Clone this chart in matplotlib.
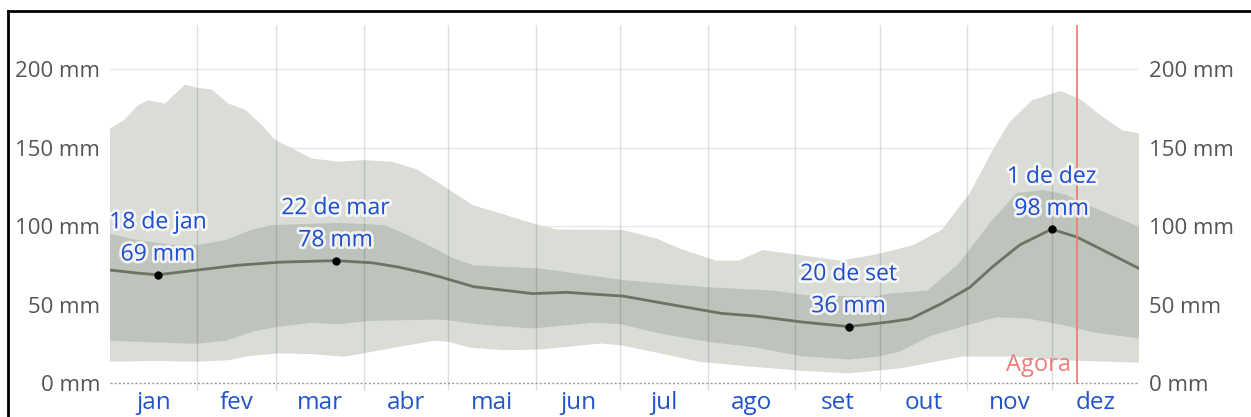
import matplotlib
matplotlib.use('Agg')
import matplotlib.pyplot as plt
import matplotlib.patheffects as pe
import numpy as np

# day of year (0 = 1 jan) and rainfall values (mm)
month_labels = ['jan', 'fev', 'mar', 'abr', 'mai', 'jun', 'jul', 'ago', 'set', 'out', 'nov', 'dez']
month_days = [31, 28, 31, 30, 31, 30, 31, 31, 30, 31, 30, 31]

median_days = [0, 10, 17, 31, 45, 60, 80, 93, 102, 112, 117, 121, 129, 150, 162,
               182, 200, 217, 229, 245, 262, 276.6, 284, 295, 305, 313, 322.7, 334,
               343, 354.6, 365]
median_vals = [72, 70, 69, 72, 75, 77, 78, 76.6, 74, 70, 67.7, 65.6, 61.4, 57, 57.8,
               55.4, 49.7, 44.4, 42.7, 39, 36, 39, 41, 50.7, 61, 74, 88, 98,
               93, 82.5, 73]

p75_days = [0, 10, 22, 31, 41, 50, 57, 81, 97.5, 107, 116, 121, 129, 152.5, 182,
            212, 235, 247, 270.5, 276.6, 290, 301, 313, 321.6, 331, 339, 348.6, 365]
p75_vals = [95, 91, 88, 88, 91, 97.5, 100.6, 102, 100.6, 93, 85, 80, 75, 73, 65.6,
            61, 59, 56, 55, 57, 59, 76, 104, 121, 123, 120, 112, 99.6]

p25_days = [0, 30, 41, 51, 60, 71.6, 81, 93, 116, 120, 128, 138, 150, 171, 181,
            195, 212, 228, 245, 262, 273, 280, 291, 302.5, 314.5, 326, 338, 350, 365]
p25_vals = [27, 25, 27, 33, 36, 38.4, 37.6, 39.7, 40.5, 40, 38, 36.3, 34.8, 38.4, 37.6,
            31.6, 26.3, 23, 17.2, 15, 17, 20, 30, 36, 42, 41, 37, 32, 28.5]

p90_days = [0, 5, 10, 13.5, 19.5, 26.6, 31, 36, 42, 48, 54, 58.5, 64.5, 71.6, 81,
            90, 100, 109, 117, 129, 135, 150, 158.5, 182, 194, 202, 215, 223, 231.5,
            245, 259, 270.5, 278, 285, 295, 305, 313, 319, 327, 337, 344, 351, 359, 365]
p90_vals = [162, 167.5, 177, 180, 178, 190, 188, 187, 178, 174, 164, 155, 149.5, 143, 141,
            142, 141, 136, 127, 113, 110, 101.7, 97.8, 97.5, 92, 85.8, 78, 78, 84.7,
            81.5, 78, 81.5, 84.7, 88, 97.5, 121, 148, 166, 180, 186, 181, 171, 161, 159]

p10_days = [0, 16, 30, 42, 49, 60, 71.6, 83, 90, 102, 115, 120, 128, 140, 152.5,
            174, 181, 195, 209, 228, 245, 262, 280, 302.5, 320, 338, 365]
p10_vals = [13.6, 14.2, 13.6, 14.6, 17.2, 19, 18.5, 16.8, 19, 23, 27, 26.3, 22.5, 21, 21.4,
            25.2, 24.2, 19, 13.6, 10.4, 7.9, 6.2, 9.3, 17, 17, 14.6, 13]

highlights = [(17, 69, '18 de jan'), (80, 78, '22 de mar'),
              (262, 36, '20 de set'), (334, 98, '1 de dez')]
now_day = 343

y_ticks = [0, 50, 100, 150, 200]


def main():
    plt.rcParams['font.family'] = ['Open Sans', 'DejaVu Sans']
    fig = plt.figure(figsize=(12.51, 4.17), dpi=100)
    ax = fig.add_axes([110 / 1251, 26 / 417, 1029 / 1251, 366 / 417])

    # 10-90 band, then 25-75 band
    ax.fill(np.concatenate([p90_days, p10_days[::-1]]),
            np.concatenate([p90_vals, p10_vals[::-1]]),
            color='#d9ddd6', lw=0, zorder=1)
    ax.fill(np.concatenate([p75_days, p25_days[::-1]]),
            np.concatenate([p75_vals, p25_vals[::-1]]),
            color='#bec3bb', lw=0, zorder=2)

    ax.plot(median_days, median_vals, color='#6b7463', lw=2, zorder=4,
            solid_joinstyle='round')

    # grid
    bounds = np.cumsum(month_days)[:-1]
    for b in bounds:
        ax.axvline(b, color='black', lw=1, alpha=0.13, zorder=3)
    for t in y_ticks[1:]:
        ax.axhline(t, color='#e8e8e8', lw=1, zorder=0)
    ax.axhline(0, color='#999999', lw=1, ls=(0, (1.5, 1.5)), zorder=3)

    # now line
    ax.plot([now_day, now_day], [0, 228], color='#f07b7b', lw=1.3, zorder=5)
    ax.text(now_day - 2, 4, 'Agora', color='#f07b7b', fontsize=17,
            ha='right', va='bottom', zorder=6)

    halo = [pe.withStroke(linewidth=4, foreground=(1, 1, 1, 0.8))]
    for day, val, label in highlights:
        ax.plot(day, val, 'o', color='black', ms=5, zorder=7)
        ax.annotate(label + '\n' + str(val) + ' mm', (day, val),
                    xytext=(0, 6), textcoords='offset points',
                    ha='center', va='bottom', color='#1f4fcc',
                    fontsize=16.5, linespacing=1.45, zorder=8,
                    path_effects=halo)

    ax.set_xlim(0, 365)
    ax.set_ylim(-5, 228)

    mids = np.cumsum(month_days) - np.array(month_days) / 2
    ax.set_xticks(mids)
    ax.set_xticklabels(month_labels, color='#2255cc', fontsize=17.5)
    ax.set_yticks(y_ticks)
    ax.set_yticklabels([str(t) + ' mm' for t in y_ticks], color='#555555', fontsize=16)
    ax.tick_params(axis='both', length=0)
    ax.tick_params(axis='x', pad=0)
    ax.tick_params(axis='y', pad=7, labelright=True)
    for s in ax.spines.values():
        s.set_visible(False)

    # black frame on top and left of the screenshot
    fig.add_artist(plt.Line2D([8 / 1251, 1], [1 - 11 / 417, 1 - 11 / 417],
                              color='black', lw=2, transform=fig.transFigure))
    fig.add_artist(plt.Line2D([8 / 1251, 8 / 1251], [0, 1 - 11 / 417],
                              color='black', lw=2, transform=fig.transFigure))

    plt.savefig('out.png')


if __name__ == '__main__':
    main()
